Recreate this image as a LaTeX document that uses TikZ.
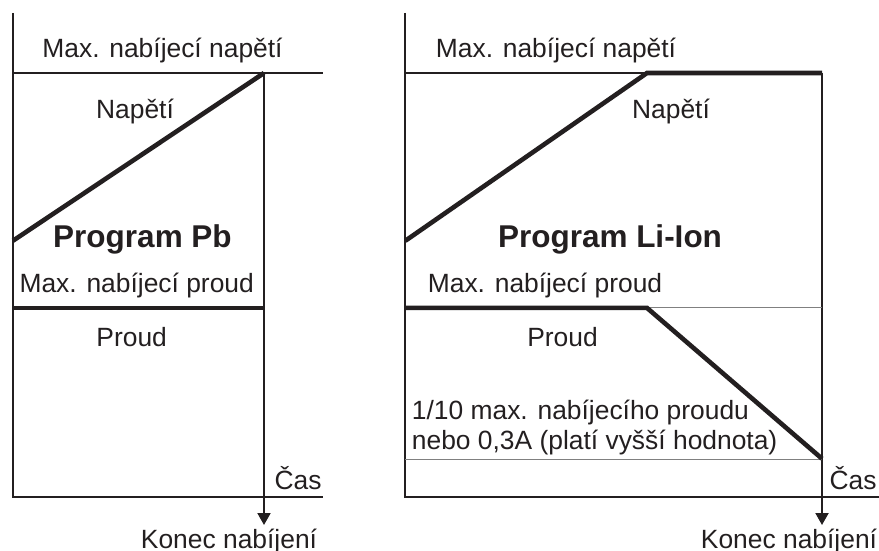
\documentclass[tikz,border=0pt]{standalone}
\usepackage{fontspec}
\setmainfont{Liberation Sans}
\usetikzlibrary{arrows.meta}
\definecolor{inkline}{RGB}{35,31,32}
\newcommand\labelfont{\fontsize{26.4}{30}\selectfont}
\newcommand\titlefont{\fontsize{31.5}{36}\selectfont\bfseries}
\tikzstyle{every node}=[inner sep=0pt, anchor=base, font=\labelfont, text=inkline]
\tikzstyle{axisline}=[line width=2pt, inkline]
\tikzstyle{curve}=[line width=4.6pt, inkline]
\tikzstyle{guide}=[line width=1pt, gray]
\tikzstyle{endmark}=[axisline, -{Triangle[width=13pt,length=12pt]}]

\begin{document}
\begin{tikzpicture}[x=1pt, y=-1pt]
\useasboundingbox (0,0) rectangle (879,551);
% Program Pb: axes
    \draw[axisline] (13,13) -- (13,496.5) -- (323,496.5);
    \draw[axisline] (13,73) -- (323,73);
    \draw[endmark] (264,73) -- (264,525);
% Program Pb: curves
    \draw[curve] (13,240.7) -- (264,73);
    \draw[curve] (13,307.8) -- (264,307.8);
% Program Pb: labels
    \node (pbumax) at (162.5,58) {Max. nabíjecí napětí};
    \node (pbu) at (135,118.8) {Napětí};
    \node[font=\titlefont] (pbtitle) at (142.5,247) {Program Pb};
    \node (pbimax) at (136.7,292.8) {Max. nabíjecí proud};
    \node (pbi) at (131.7,346) {Proud};
    \node (pbtime) at (298,489.6) {Čas};
    \node (pbend) at (229,548) {Konec nabíjení};
% Program Li-Ion: axes
    \draw[axisline] (405.3,13) -- (405.3,496.5) -- (879,496.5);
    \draw[axisline] (405.3,73) -- (647,73);
    \draw[endmark] (822,73) -- (822,525);
    \draw[guide] (647,307.9) -- (822,307.9);
    \draw[guide] (405.3,459) -- (822,459);
% Program Li-Ion: curves
    \draw[curve] (405.3,240.8) -- (647,73) -- (822,73);
    \draw[curve] (405.3,307.9) -- (647,307.9) -- (822,458.7);
% Program Li-Ion: labels
    \node (liumax) at (556,58) {Max. nabíjecí napětí};
    \node (liu) at (671,118.8) {Napětí};
    \node[font=\titlefont] (lititle) at (610,247) {Program Li-Ion};
    \node (liimax) at (545,292.8) {Max. nabíjecí proud};
    \node (lii) at (562.5,346) {Proud};
    \node[anchor=base west] (limin) at (411.7,419) {1/10 max. nabíjecího proudu};
    \node[anchor=base west] (limintwo) at (411.7,449.2) {nebo 0,3A (platí vyšší hodnota)};
    \node (litime) at (853,489.6) {Čas};
    \node (liend) at (789,548) {Konec nabíjení};
\end{tikzpicture}
\end{document}
